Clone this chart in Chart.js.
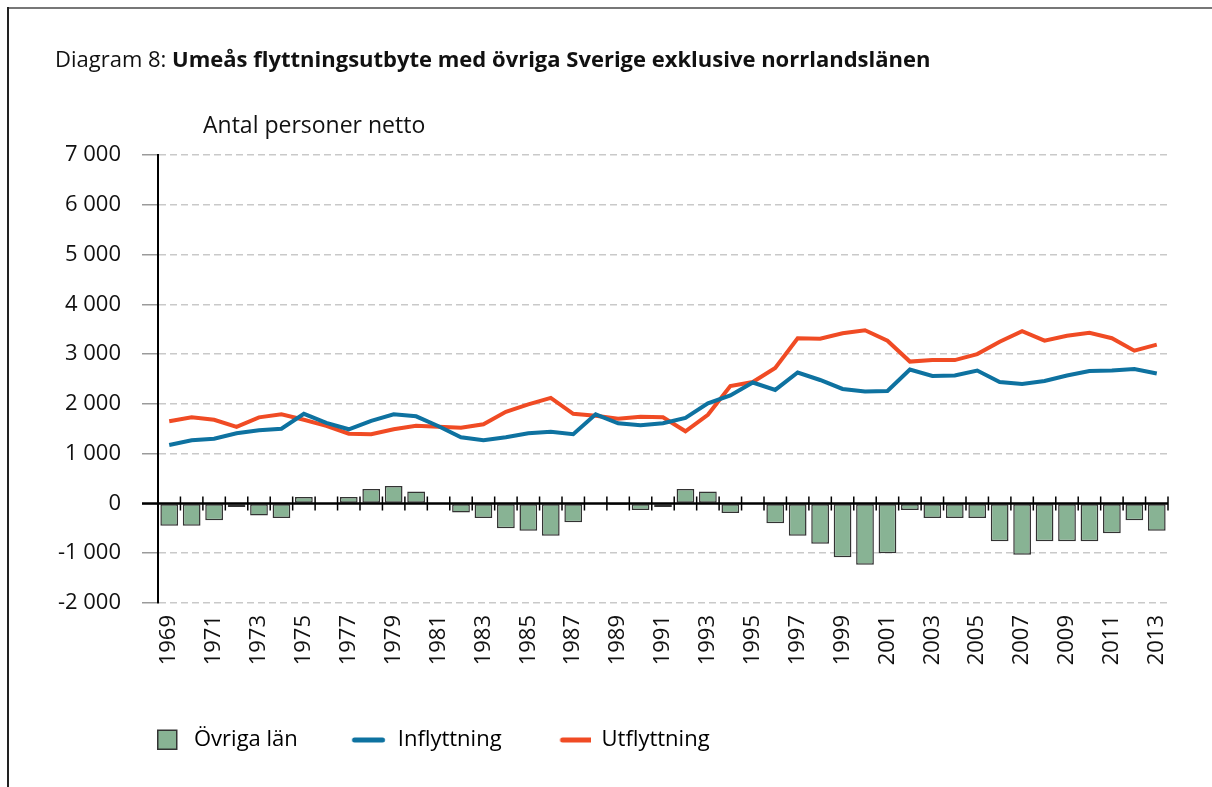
<!DOCTYPE html>
<html lang="sv">
<head>
<meta charset="utf-8">
<title>Diagram 8</title>
<script src="https://cdn.jsdelivr.net/npm/chart.js@4.4.1/dist/chart.umd.min.js"></script>
<style>
  html, body { margin: 0; padding: 0; background: #fff; }
  #wrap { position: relative; width: 1212px; height: 787px; overflow: hidden; font-family: "Open Sans", sans-serif; color: #111; }
  #frameTop { position: absolute; left: 7px; top: 7px; right: 0; height: 2px; background: #777; }
  #frameLeft { position: absolute; left: 7px; top: 7px; bottom: 0; width: 2px; background: #222; }
  #title { position: absolute; left: 55px; top: 46px; font-size: 22px; line-height: 24px; white-space: nowrap; }
  #ytitle { position: absolute; left: 203px; top: 111px; font-size: 23px; line-height: 26px; white-space: nowrap; }
  canvas { position: absolute; left: 0; top: 0; }
</style>
</head>
<body>
<div id="wrap">
  <canvas id="chart" width="1212" height="787"></canvas>
  <div id="frameTop"></div>
  <div id="frameLeft"></div>
  <div id="title">Diagram 8: <b>Umeås flyttningsutbyte med övriga Sverige exklusive norrlandslänen</b></div>
  <div id="ytitle">Antal personer netto</div>
</div>
<script>
// data
const years = ['1969','1970','1971','1972','1973','1974','1975','1976','1977','1978',
  '1979','1980','1981','1982','1983','1984','1985','1986','1987','1988',
  '1989','1990','1991','1992','1993','1994','1995','1996','1997','1998',
  '1999','2000','2001','2002','2003','2004','2005','2006','2007','2008',
  '2009','2010','2011','2012','2013'];

const ovrigaLan = [-450, -450, -340, -70, -240, -290, 130, 0, 130, 290,
  350, 240, 0, -180, -290, -500, -550, -650, -380, 0,
  -30, -130, -70, 290, 240, -190, 0, -400, -650, -810,
  -1080, -1230, -1000, -130, -290, -290, -290, -760, -1030, -760,
  -760, -760, -600, -340, -550];

const inflyttning = [1175, 1270, 1300, 1410, 1470, 1500, 1800, 1620, 1490, 1660,
  1790, 1750, 1550, 1330, 1270, 1330, 1410, 1440, 1390, 1790,
  1610, 1570, 1610, 1720, 2010, 2170, 2430, 2280, 2630, 2480,
  2300, 2250, 2260, 2690, 2560, 2570, 2670, 2440, 2400, 2460,
  2570, 2660, 2670, 2700, 2610];

const utflyttning = [1650, 1730, 1680, 1540, 1730, 1790, 1680, 1560, 1400, 1390,
  1490, 1560, 1540, 1520, 1590, 1840, 1990, 2120, 1800, 1760,
  1700, 1740, 1730, 1450, 1780, 2360, 2440, 2720, 3320, 3310,
  3420, 3480, 3270, 2850, 2880, 2880, 3000, 3250, 3460, 3270,
  3370, 3430, 3320, 3070, 3190];

const seriesNames = ['Övriga län', 'Inflyttning', 'Utflyttning'];
const Y_MIN = -2000, Y_MAX = 7000, Y_STEP = 1000;

// style
const FONT = '"Open Sans", sans-serif';
const GREEN = '#88b394';
const BLUE = '#0e72a0';
const RED = '#f04b24';

const PAD_LEFT = 20;
const LEG_LEFT = 94;   // legend is moved here after layout
const LEG_PAD = 8;
const LEG_BOX = 81;
const LEG_MARK_X = [157, 352, 560];

function fmt(v) {
  const s = Math.abs(v).toString().replace(/\B(?=(\d{3})+(?!\d))/g, ' ');
  return (v < 0 ? '-' : '') + s;
}

// legend markers, placed inside a wide point-style box
function makeMarker(offset, kind, color) {
  const c = document.createElement('canvas');
  c.width = LEG_BOX;
  c.height = 24;
  const g = c.getContext('2d');
  if (kind === 'box') {
    g.fillStyle = color;
    g.fillRect(offset + 0.75, 2.25, 19, 19);
    g.strokeStyle = '#333';
    g.lineWidth = 1.5;
    g.strokeRect(offset + 0.75, 2.25, 19, 19);
  } else {
    g.strokeStyle = color;
    g.lineWidth = 5;
    g.lineCap = 'round';
    g.beginPath();
    g.moveTo(offset + 2.5, 12);
    g.lineTo(offset + 30.5, 12);
    g.stroke();
  }
  return c;
}

const mctx = document.createElement('canvas').getContext('2d');
mctx.font = 'normal 22px ' + FONT;
let bx = LEG_LEFT + LEG_PAD;
const legendMarkers = seriesNames.map((txt, i) => {
  const m = makeMarker(LEG_MARK_X[i] - bx, i === 0 ? 'box' : 'line', [GREEN, BLUE, RED][i]);
  bx += LEG_BOX + 11 + mctx.measureText(txt).width + LEG_PAD;
  return m;
});

// zero axis with category ticks, and legend shift
const zeroAxis = {
  id: 'zeroAxis',
  afterLayout(chart) {
    if (chart.legend) chart.legend.left = LEG_LEFT;
  },
  afterDatasetsDraw(chart) {
    const { ctx, scales: { x, y } } = chart;
    const y0 = y.getPixelForValue(0);
    const step = x.getPixelForValue(1) - x.getPixelForValue(0);
    ctx.save();
    ctx.strokeStyle = '#000';
    ctx.lineWidth = 2.5;
    ctx.beginPath();
    ctx.moveTo(x.left - 16, y0);
    ctx.lineTo(x.right, y0);
    ctx.stroke();
    ctx.lineWidth = 1.5;
    ctx.beginPath();
    for (let i = 0; i <= years.length; i++) {
      const tx = x.getPixelForValue(i) - step / 2;
      ctx.moveTo(tx, y0 - 7);
      ctx.lineTo(tx, y0 + 7);
    }
    ctx.stroke();
    ctx.restore();
  }
};

new Chart(document.getElementById('chart'), {
  type: 'bar',
  data: {
    labels: years,
    datasets: [
      {
        type: 'bar',
        label: seriesNames[0],
        data: ovrigaLan,
        backgroundColor: GREEN,
        borderColor: '#333',
        borderWidth: 1.5,
        borderSkipped: false,
        barPercentage: 0.79,
        categoryPercentage: 1,
        order: 10
      },
      {
        type: 'line',
        label: seriesNames[1],
        data: inflyttning,
        borderColor: BLUE,
        borderWidth: 4,
        pointRadius: 0,
        tension: 0,
        order: 0
      },
      {
        type: 'line',
        label: seriesNames[2],
        data: utflyttning,
        borderColor: RED,
        borderWidth: 4,
        pointRadius: 0,
        tension: 0,
        order: 1
      }
    ]
  },
  options: {
    responsive: false,
    animation: false,
    layout: { padding: { left: PAD_LEFT, top: 155, right: 44, bottom: 26 } },
    plugins: {
      tooltip: { enabled: false },
      legend: {
        position: 'bottom',
        align: 'start',
        labels: {
          usePointStyle: true,
          pointStyleWidth: LEG_BOX,
          padding: LEG_PAD,
          color: '#111',
          font: { family: FONT, size: 22 },
          generateLabels: (chart) => chart.data.datasets.map((ds, i) => ({
            text: ds.label,
            pointStyle: legendMarkers[i],
            datasetIndex: i,
            hidden: false,
            lineWidth: 0,
            fillStyle: 'rgba(0,0,0,0)',
            strokeStyle: 'rgba(0,0,0,0)'
          }))
        }
      }
    },
    scales: {
      x: {
        offset: true,
        afterFit: (s) => { s.height = 118; },
        grid: { display: false, drawTicks: false, offset: true },
        border: { display: false },
        ticks: {
          autoSkip: false,
          maxRotation: 90,
          minRotation: 90,
          padding: 12,
          color: '#111',
          font: { family: FONT, size: 22 },
          callback: (val, i) => (i % 2 === 0 ? years[i] : '')
        }
      },
      y: {
        min: Y_MIN,
        max: Y_MAX,
        afterFit: (s) => { s.width = 158 - PAD_LEFT; },
        grid: {
          color: (c) => (c.tick && c.tick.value === 0 ? 'rgba(0,0,0,0)' : '#c9c9c9'),
          lineWidth: 1.5,
          tickLength: 16,
          tickColor: '#9a9a9a',
          tickWidth: 1.5
        },
        border: { display: true, color: '#000', width: 2, dash: [7, 4] },
        ticks: {
          stepSize: Y_STEP,
          padding: 21,
          color: '#111',
          font: { family: FONT, size: 22 },
          callback: (v) => fmt(v)
        }
      }
    }
  },
  plugins: [zeroAxis]
});
</script>
</body>
</html>
